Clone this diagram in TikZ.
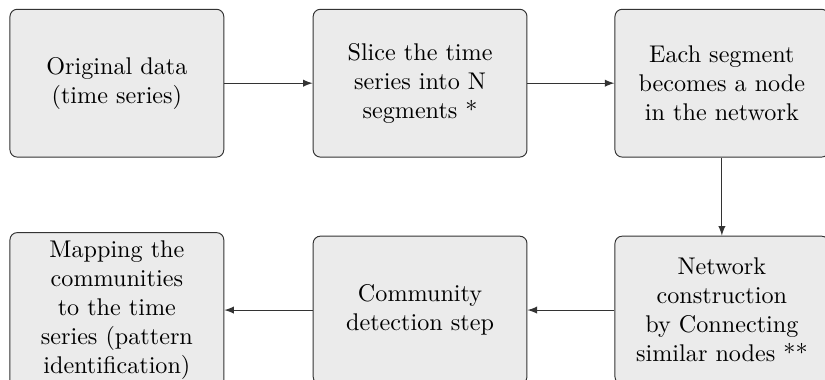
\documentclass[tikz,border=0pt]{standalone}
\usepackage{tikz}
\usetikzlibrary{arrows}
\usepackage{xcolor}
\definecolor{blockgray}{HTML}{EBEBEB}
\definecolor{blockline}{HTML}{333333}

\begin{document}
\begin{tikzpicture}
        % Définition des styles
        \tikzset{
            block/.style={rectangle, rounded corners=3pt, draw=blockline, fill=blockgray,
                         text width=2.8cm, align=center, minimum width=3.11cm, minimum height=2.15cm},
            arrow/.style={->, >=latex, blockline}
        }

        % Cadre
        \useasboundingbox (0,0) rectangle (12,-5.527);

        % Ligne du haut
        \node[block] (original) at (1.70,-1.21) {Original data\\(time series)};
        \node[block] (slice) at (6.11,-1.21) {Slice the time\\series into N\\segments *};
        \node[block] (segment) at (10.50,-1.21) {Each segment\\becomes a node\\in the network};

        % Ligne du bas
        \node[block] (network) at (10.50,-4.51) {Network\\construction\\by Connecting\\similar nodes **};
        \node[block] (community) at (6.11,-4.51) {Community\\detection step};
        \node[block] (mapping) at (1.70,-4.51) {Mapping the\\communities\\to the time\\series (pattern\\identification)};

        % Connexions
        \draw[arrow] (original) -- (slice);
        \draw[arrow] (slice) -- (segment);
        \draw[arrow] (segment) -- (network);
        \draw[arrow] (network) -- (community);
        \draw[arrow] (community) -- (mapping);
    \end{tikzpicture}
\end{document}
